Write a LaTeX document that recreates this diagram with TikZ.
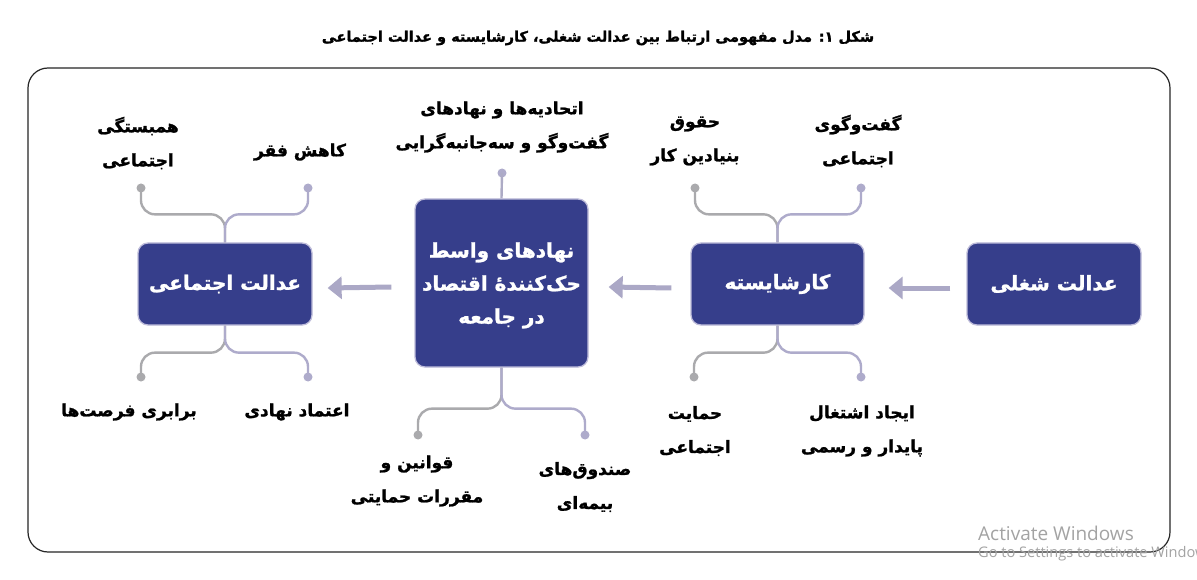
\documentclass[tikz,border=0pt]{standalone}
\usepackage{fontspec}
\usetikzlibrary{arrows.meta}
\TeXXeTstate=1
\newfontfamily\farsi[Script=Arabic, BoldFeatures={FakeBold=1.3}]{DejaVu Sans}
\newfontfamily\winfont{Open Sans}
\newcommand\fa[1]{\beginR #1\endR}
\definecolor{boxblue}{HTML}{363E8B}
\definecolor{boxedge}{HTML}{BEBCDA}
\definecolor{graycol}{HTML}{AAAAAD}
\definecolor{lavcol}{HTML}{AEABCB}
\definecolor{arrcol}{HTML}{ABA8C6}
\definecolor{wmgray}{HTML}{A3A3A3}
\begin{document}
\begin{tikzpicture}[x=1pt,y=-1pt,
  box/.style={draw=boxedge, line width=1.3pt, fill=boxblue, rounded corners=10pt,
    text=white, align=center, inner sep=0pt,
    font=\farsi\bfseries\fontsize{20}{33}\selectfont},
  lab/.style={align=center, inner sep=0pt, text=black,
    font=\farsi\bfseries\fontsize{17}{34}\selectfont},
  gdot/.style={circle, fill=graycol, inner sep=0pt, minimum size=9pt},
  pdot/.style={circle, fill=lavcol, inner sep=0pt, minimum size=9pt},
  gline/.style={draw=graycol, line width=2.4pt, rounded corners=14pt},
  pline/.style={draw=lavcol, line width=2.4pt, rounded corners=14pt},
  arr/.style={draw=arrcol, line width=5pt, -{Triangle[length=14pt,width=22pt]}},
]
\useasboundingbox (0,0) rectangle (1197,580);
\fill[white] (0,0) rectangle (1197,580);

% frame
\draw[line width=1.2pt, draw=black!85, rounded corners=20pt] (28,68) rectangle (1170,552);

% title
\node[inner sep=0pt, font=\farsi\bfseries\fontsize{14.5}{18}\selectfont] (title) at (598,38)
  {\fa{شکل ۱: مدل مفهومی ارتباط بین عدالت شغلی، کارشایسته و عدالت اجتماعی}};

% main boxes
\node[box, minimum width=174pt, minimum height=82pt] (se) at (225,284) {\fa{عدالت اجتماعی}};
\node[box, minimum width=173pt, minimum height=168pt] (mid) at (501.5,283) {\rule{0pt}{20pt}\fa{نهادهای واسط}\\\fa{حک^^^^200cکننده^^^^0654 اقتصاد}\\\fa{در جامعه}};
\node[box, minimum width=173pt, minimum height=82pt] (ks) at (777.5,284) {\fa{کارشایسته}};
\node[box, minimum width=174pt, minimum height=82pt] (js) at (1054,284) {\fa{عدالت شغلی}};

% arrows
\draw[arr] ([xshift=-16pt,yshift=-4pt]js.west) -- ([xshift=24pt,yshift=-4pt]ks.east);
\draw[arr] ([xshift=-19pt,yshift=-4pt]ks.west) -- ([xshift=20pt,yshift=-4pt]mid.east);
\draw[arr] ([xshift=-23pt,yshift=-4pt]mid.west) -- ([xshift=15pt,yshift=-4pt]se.east);

% dots
\node[gdot] (d1) at (141,188) {};
\node[pdot] (d2) at (308,188) {};
\node[gdot] (d3) at (141,377) {};
\node[pdot] (d4) at (308,377) {};
\node[pdot] (d5) at (502,173) {};
\node[gdot] (d6) at (418,435) {};
\node[pdot] (d7) at (585,435) {};
\node[gdot] (d8) at (695,188) {};
\node[pdot] (d9) at (861,188) {};
\node[gdot] (d10) at (694,377) {};
\node[pdot] (d11) at (861,377) {};

% branches
\draw[gline] (se.north) -- ++(0,-28) -| (d1.center);
\draw[pline] (se.north) -- ++(0,-28) -| (d2.center);
\draw[gline] (se.south) -- ++(0,27) -| (d3.center);
\draw[pline] (se.south) -- ++(0,27) -| (d4.center);
\draw[draw=lavcol!80!graycol, line width=2.4pt] (mid.north) -- (d5.center);
\draw[gline] (mid.south) -- ++(0,41) -| (d6.center);
\draw[pline] (mid.south) -- ++(0,41) -| (d7.center);
\draw[gline] (ks.north) -- ++(0,-28) -| (d8.center);
\draw[pline] (ks.north) -- ++(0,-28) -| (d9.center);
\draw[gline] (ks.south) -- ++(0,27) -| (d10.center);
\draw[pline] (ks.south) -- ++(0,27) -| (d11.center);

% labels
\node[lab] (l1) at (138,143) {\fa{همبستگی}\\\fa{اجتماعی}};
\node[lab] (l2) at (300,152) {\fa{کاهش فقر}};
\node[lab] (l3) at (129,412) {\fa{برابری فرصت^^^^200cها}};
\node[lab] (l4) at (297,412) {\fa{اعتماد نهادی}};
\node[lab] (l5) at (502,127) {\fa{اتحادیه^^^^200cها و نهادهای}\\\fa{گفت^^^^200cوگو و سه^^^^200cجانبه^^^^200cگرایی}};
\node[lab] (l6) at (417,481) {\fa{قوانین و}\\\fa{مقررات حمایتی}};
\node[lab] (l7) at (585,487) {\fa{صندوق^^^^200cهای}\\\fa{بیمه^^^^200cای}};
\node[lab] (l8) at (695,141) {\fa{حقوق}\\\fa{بنیادین کار}};
\node[lab] (l9) at (858,141) {\fa{گفت^^^^200cوگوی}\\\fa{اجتماعی}};
\node[lab] (l10) at (695,431) {\fa{حمایت}\\\fa{اجتماعی}};
\node[lab] (l11) at (862,431) {\fa{ایجاد اشتغال}\\\fa{پایدار و رسمی}};

% watermark
\begin{scope}
\clip (0,0) rectangle (1197,580);
\node[anchor=base west, inner sep=0pt, text=wmgray, font=\winfont\fontsize{19}{19}\selectfont] (w1) at (978,540) {Activate Windows};
\node[anchor=base west, inner sep=0pt, text=wmgray, font=\winfont\fontsize{14.6}{15}\selectfont] (w2) at (978,557) {Go to Settings to activate Windows.};
\end{scope}
\end{tikzpicture}
\end{document}
